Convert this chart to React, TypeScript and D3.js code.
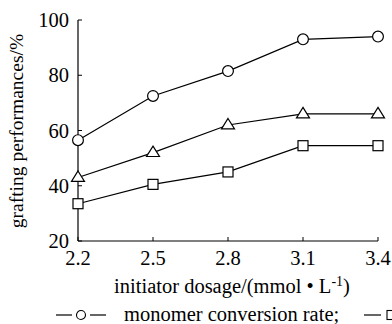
import * as d3 from "d3";

const WIDTH = 392;
const HEIGHT = 324;
const MARGIN = { top: 20, right: 14, bottom: 83, left: 78 };

const dosage = [2.2, 2.5, 2.8, 3.1, 3.4];
const conversion = [56.5, 72.5, 81.5, 93, 94];
const efficiency = [43, 52, 62, 66, 66];
const grafting = [33.5, 40.5, 45, 54.5, 54.5];
const yTicks = [20, 40, 60, 80, 100];

const FONT = "Liberation Serif, DejaVu Serif, serif";

type Shape = "circle" | "triangle" | "square";

const Marker = ({ x, y, shape }: { x: number; y: number; shape: Shape }) => {
  if (shape === "circle") {
    return <circle cx={x} cy={y} r={5.4} fill="#fff" stroke="#000" strokeWidth={1.2} />;
  }
  if (shape === "square") {
    return <rect x={x - 5} y={y - 5} width={10} height={10} fill="#fff" stroke="#000" strokeWidth={1.2} />;
  }
  const s = 6.5;
  return (
    <path
      d={`M${x},${y - s}L${x + s},${y + s * 0.6}L${x - s},${y + s * 0.6}Z`}
      fill="#fff"
      stroke="#000"
      strokeWidth={1.2}
    />
  );
};

export default function App() {
  const boundsHeight = HEIGHT - MARGIN.top - MARGIN.bottom;

  const xScale = d3.scaleLinear().domain([2.2, 3.4]).range([0, 300]);
  const yScale = d3.scaleLinear().domain([20, 100]).range([boundsHeight, 0]);

  const line = d3
    .line<number>()
    .x((_, i) => xScale(dosage[i]))
    .y((d) => yScale(d));

  const series: { values: number[]; shape: Shape }[] = [
    { values: conversion, shape: "circle" },
    { values: efficiency, shape: "triangle" },
    { values: grafting, shape: "square" },
  ];

  return (
    <svg width={WIDTH} height={HEIGHT} style={{ position: "absolute", left: 0, top: 0, fontFamily: FONT }}>
      <rect width={WIDTH} height={HEIGHT} fill="#fff" />
      <g transform={`translate(${MARGIN.left},${MARGIN.top})`}>
        {/* axes */}
        <line x1={0} x2={0} y1={0} y2={boundsHeight} stroke="#000" strokeWidth={1.2} />
        <line x1={0} x2={xScale(3.4)} y1={boundsHeight} y2={boundsHeight} stroke="#000" strokeWidth={1.2} />
        {yTicks.map((t) => (
          <g key={t} transform={`translate(0,${yScale(t)})`}>
            <line x1={0} x2={4} stroke="#000" strokeWidth={1} />
            <text x={-9} dy="0.35em" textAnchor="end" fontSize={20.5}>
              {t}
            </text>
          </g>
        ))}
        {dosage.map((t) => (
          <g key={t} transform={`translate(${xScale(t)},${boundsHeight})`}>
            <line y1={0} y2={-4} stroke="#000" strokeWidth={1} />
            <text y={24} textAnchor="middle" fontSize={20.5}>
              {t.toFixed(1)}
            </text>
          </g>
        ))}
        {series.map((s) => (
          <g key={s.shape}>
            <path d={line(s.values) ?? ""} fill="none" stroke="#000" strokeWidth={1.2} />
            {s.values.map((v, i) => (
              <Marker key={i} x={xScale(dosage[i])} y={yScale(v)} shape={s.shape} />
            ))}
          </g>
        ))}
        <text
          transform={`translate(${-55},${111}) rotate(-90)`}
          textAnchor="middle"
          fontSize={19.5}
        >
          grafting performances/%
        </text>
        <text x={xScale(2.8) + 4} y={boundsHeight + 52} textAnchor="middle" fontSize={20.5}>
          initiator dosage/(mmol • L
          <tspan dy={-7} fontSize={14}>-1</tspan>
          <tspan dy={7}>)</tspan>
        </text>
      </g>
      {/* legend */}
      <g transform="translate(0,315)">
        <line x1={56} x2={72} stroke="#000" strokeWidth={1.2} />
        <circle cx={81} cy={0} r={4.5} fill="#fff" stroke="#000" strokeWidth={1.1} />
        <line x1={90} x2={106} stroke="#000" strokeWidth={1.2} />
        <text x={124} dy="0.3em" fontSize={20.5}>
          monomer conversion rate;
        </text>
        <line x1={364} x2={381} stroke="#000" strokeWidth={1.2} />
        <rect x={387} y={-4.5} width={9} height={9} fill="#fff" stroke="#000" strokeWidth={1.1} />
      </g>
    </svg>
  );
}
